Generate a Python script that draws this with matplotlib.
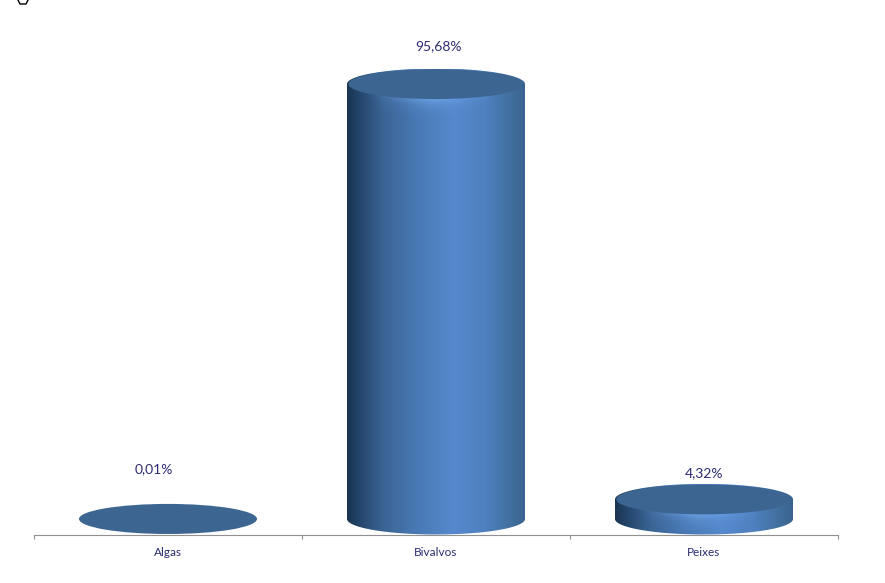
import numpy as np
import matplotlib
matplotlib.use("Agg")
import matplotlib.pyplot as plt
from matplotlib.colors import LinearSegmentedColormap
from matplotlib.patches import Ellipse, PathPatch
from matplotlib.path import Path
from matplotlib.lines import Line2D

categories = ["Algas", "Bivalvos", "Peixes"]
values = [0.01, 95.68, 4.32]
value_labels = ["0,01%", "95,68%", "4,32%"]
label_offsets_px = [(-14, 44), (2, 32), (0, 20)]

W, H = 885, 583
TEXT = "#2b2a72"
CAP = "#3d6592"
plt.rcParams["font.family"] = ["Lato", "DejaVu Sans"]

fig = plt.figure(figsize=(W / 100, H / 100), dpi=100, facecolor="white")
L, R, B, T = 34, 838, 535, 20
ax = fig.add_axes([L / W, 1 - B / H, (R - L) / W, (B - T) / H])
ppu = 4.546                      # pixels per data unit
ry = 15.5 / ppu                  # ellipse half height in data units
width = 178 / ((R - L) / 3)      # bar width in category units
ax.set_xlim(-0.5, 2.5)
ax.set_ylim(-16 / ppu, (519 - T) / ppu)

side_cmap = LinearSegmentedColormap.from_list("side", [
    (0.00, "#1b3450"), (0.07, "#25466c"), (0.20, "#3a6494"),
    (0.40, "#4a7ab6"), (0.60, "#5589cc"), (0.78, "#4f80bf"),
    (0.92, "#41709f"), (1.00, "#3a628f")])


def cylinder(x, v):
    x0, x1 = x - width / 2, x + width / 2
    if v > 0.5:
        t = np.linspace(np.pi, 2 * np.pi, 80)
        top = np.linspace(0, np.pi, 80)
        verts = ([(x + width / 2 * np.cos(a), ry * np.sin(a)) for a in t]
                 + [(x + width / 2 * np.cos(a), v + ry * np.sin(a)) for a in top])
        verts.append(verts[0])
        codes = [Path.MOVETO] + [Path.LINETO] * (len(verts) - 2) + [Path.CLOSEPOLY]
        clip = PathPatch(Path(verts, codes), transform=ax.transData, fc="none", ec="none")
        ax.add_patch(clip)
        grad = np.linspace(0, 1, 256).reshape(1, -1)
        im = ax.imshow(grad, cmap=side_cmap, extent=(x0, x1, -ry, v + ry), aspect="auto",
                       zorder=2, vmin=0, vmax=1)
        im.set_clip_path(clip)
        # soft bevel glow under the cap, strongest at the centre of its lower edge
        nx, ny = 240, 160
        u = np.linspace(-1, 1, nx)
        ys = np.linspace(v + ry, v - ry - 16 / ppu, ny)
        uu, yy = np.meshgrid(u, ys)
        cap_low = v - ry * np.sqrt(1 - uu ** 2)
        d = np.clip((cap_low - yy) * ppu, 0, None)
        centre = np.clip(1 - np.abs(uu + 0.05) / 0.75, 0, 1) ** 1.2
        rgba = np.zeros((ny, nx, 4))
        rgba[..., :3] = (0.50, 0.72, 1.0)
        rgba[..., 3] = 0.55 * centre * np.exp(-d / 6.0)
        im2 = ax.imshow(rgba, extent=(x0, x1, ys[-1], ys[0]), aspect="auto", zorder=3)
        im2.set_clip_path(clip)
        # lower edge of long cylinders keeps plain gradient; short ones darken toward the shoulders
        ax.add_patch(Ellipse((x, v), width * 0.985, 2 * ry * 0.97, fc=CAP, ec="none", zorder=4))
    else:
        ax.add_patch(Ellipse((x, v), width, 2 * ry * 0.97, fc=CAP, ec="none", zorder=4))


for i, v in enumerate(values):
    cylinder(i, v)
    dx, dy = label_offsets_px[i]
    ax.annotate(value_labels[i], (i, v), xytext=(dx * 0.72, dy * 0.72), textcoords="offset points",
                ha="center", va="bottom", color=TEXT, fontsize=10, zorder=5)

ax.set_xlim(-0.5, 2.5)
ax.set_ylim(-16 / ppu, (519 - T) / ppu)
for s in ("top", "left", "right"):
    ax.spines[s].set_visible(False)
ax.spines["bottom"].set_color("#909090")
ax.spines["bottom"].set_linewidth(0.8)
ax.patch.set_visible(False)
ax.set_yticks([])
ax.set_xticks([-0.5, 0.5, 1.5, 2.5])
ax.set_xticklabels([])
ax.tick_params(axis="x", which="major", length=3, color="#909090", direction="out", width=0.8)
ax.set_xticks([0, 1, 2], minor=True)
ax.set_xticklabels(categories, minor=True, color=TEXT, fontsize=8.5)
ax.tick_params(axis="x", which="minor", length=0, pad=8.5)

# small cursor remnant in the corner of the screenshot
fig.add_artist(Line2D([18 / W, 20 / W, 26 / W, 28 / W], [1 - 0 / H, 1 - 4 / H, 1 - 4 / H, 1 - 0 / H],
                      color="black", lw=1.0))

fig.savefig("out.png", dpi=100, facecolor="white")
